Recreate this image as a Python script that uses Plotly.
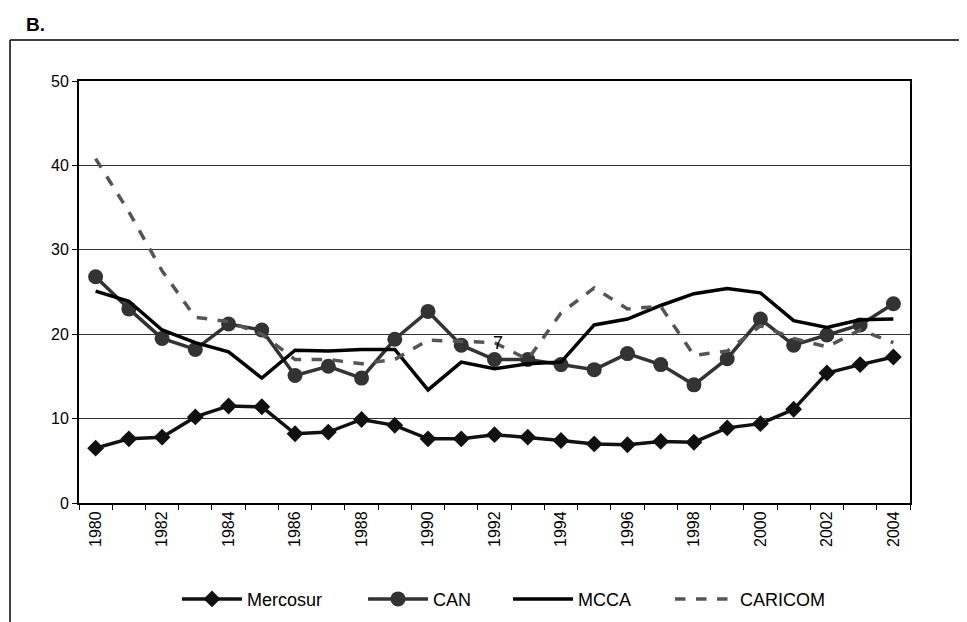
import plotly.graph_objects as go

years = list(range(1980, 2005))
mercosur = [6.5, 7.6, 7.8, 10.2, 11.5, 11.4, 8.2, 8.4, 9.9, 9.2, 7.6, 7.6, 8.1, 7.8, 7.4, 7.0, 6.9, 7.3, 7.2, 8.9, 9.4, 11.1, 15.4, 16.4, 17.3]
can = [26.8, 23.0, 19.5, 18.2, 21.2, 20.5, 15.1, 16.2, 14.8, 19.4, 22.7, 18.7, 17.0, 17.0, 16.4, 15.8, 17.7, 16.4, 14.0, 17.1, 21.8, 18.7, 19.9, 21.1, 23.6]
mcca = [25.1, 23.9, 20.5, 19.0, 17.9, 14.8, 18.1, 18.0, 18.2, 18.2, 13.4, 16.7, 15.9, 16.5, 16.7, 21.1, 21.8, 23.4, 24.8, 25.4, 24.9, 21.6, 20.8, 21.7, 21.8]
caricom = [40.8, 34.5, 27.5, 22.0, 21.5, 20.0, 17.0, 17.0, 16.5, 17.0, 19.3, 19.2, 19.0, 17.0, 22.5, 25.5, 23.0, 23.3, 17.5, 18.0, 21.0, 19.5, 18.5, 20.5, 19.0]
y_ticks = [0, 10, 20, 30, 40, 50]
x_labels = list(range(1980, 2005, 2))

FONT = "Arial, Liberation Sans, sans-serif"

fig = go.Figure()
fig.add_trace(go.Scatter(x=years, y=mercosur, name="Mercosur", mode="lines+markers", legend="legend",
                         line=dict(color="#111111", width=3.5),
                         marker=dict(symbol="diamond", size=13, color="#111111")))
fig.add_trace(go.Scatter(x=years, y=can, name="CAN", mode="lines+markers", legend="legend2",
                         line=dict(color="#333333", width=3.5),
                         marker=dict(symbol="circle", size=15, color="#333333")))
fig.add_trace(go.Scatter(x=years, y=mcca, name="MCCA", mode="lines", legend="legend3",
                         line=dict(color="#000000", width=3.5)))
fig.add_trace(go.Scatter(x=years, y=caricom, name="CARICOM", mode="lines", legend="legend4",
                         line=dict(color="#555555", width=3.5, dash="dash")))

leg = dict(orientation="h", xanchor="left", y=-0.228, yanchor="middle",
           font=dict(size=18, family=FONT), itemwidth=60, bgcolor="rgba(0,0,0,0)")

fig.update_layout(
    width=967, height=622,
    margin=dict(l=71, r=65, t=73, b=127),
    paper_bgcolor="white", plot_bgcolor="white",
    font=dict(family=FONT, size=16, color="black"),
    showlegend=True,
    legend=dict(leg, x=0.1179),
    legend2=dict(leg, x=0.3418),
    legend3=dict(leg, x=0.5162),
    legend4=dict(leg, x=0.7112),
    xaxis=dict(range=[1979.5, 2004.5], tickvals=x_labels, ticktext=[str(v) for v in x_labels],
               tickangle=-90, ticks="", showgrid=False, zeroline=False,
               showline=True, linecolor="black", linewidth=2, mirror=True,
               minor=dict(tickvals=[y + 0.5 for y in range(1979, 2005)], ticks="outside",
                          ticklen=5, tickcolor="black", showgrid=False),
               tickfont=dict(size=16)),
    yaxis=dict(range=[0, 50], tickvals=y_ticks, ticks="outside", ticklen=5, tickcolor="black",
               showgrid=True, gridcolor="#333333", gridwidth=1, zeroline=False,
               showline=True, linecolor="black", linewidth=2, mirror=True,
               tickfont=dict(size=16)),
)

fig.add_shape(type="line", xref="paper", yref="paper", x0=-0.083, x1=1.1, y0=1.097, y1=1.097,
              line=dict(color="black", width=1.5))
fig.add_shape(type="line", xref="paper", yref="paper", x0=-0.083, x1=-0.083, y0=1.097, y1=-0.3,
              line=dict(color="black", width=1.5))
fig.add_annotation(text="<b>B.</b>", xref="paper", yref="paper", x=-0.066, y=1.133,
                   xanchor="left", yanchor="middle", showarrow=False, font=dict(size=19, family=FONT))
fig.add_annotation(text="7", x=1992.1, y=19.0, showarrow=False, font=dict(size=18, family=FONT))

fig.write_html("out.html")
